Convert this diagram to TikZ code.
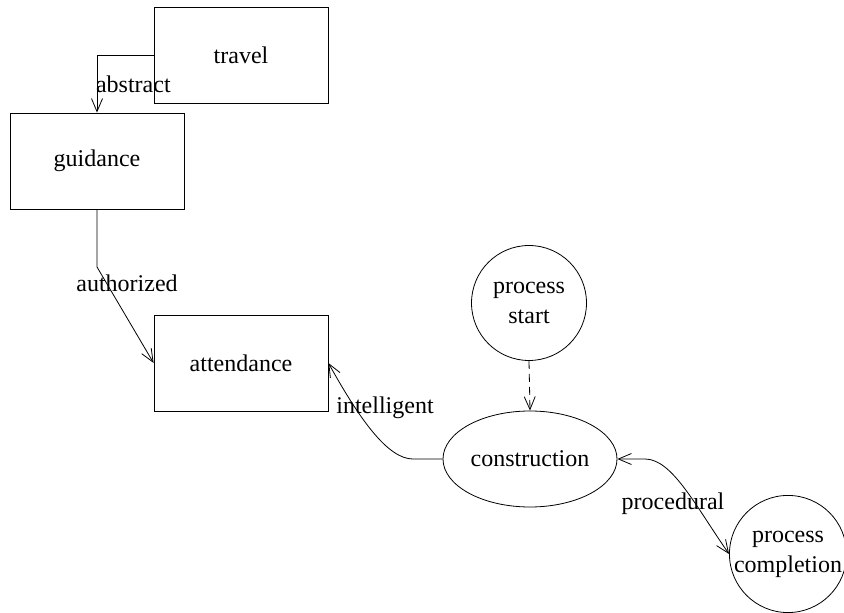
\documentclass[tikz,border=0pt]{standalone}
\usepackage{fontspec}
\setmainfont{Liberation Serif}
\usetikzlibrary{arrows.meta,shapes.geometric}

\begin{document}
\begin{tikzpicture}[x=0.5pt, y=-0.5pt,
    >={Straight Barb[length=6.5pt,width=5.5pt]},
    every node/.style={font=\fontsize{12}{15}\selectfont},
    box/.style={draw, thin, minimum width=87pt, minimum height=48pt},
    state/.style={draw, thin, circle, minimum size=57.5pt, inner sep=0pt, align=center},
    oval/.style={draw, thin, ellipse, minimum width=87pt, minimum height=48pt, inner sep=0pt},
    link/.style={thin, ->}]
    \useasboundingbox (0,0) rectangle (844,613);
    % Kvadratai
    \node[box] (travel) at (241,55) {travel};
    \node[box] (guidance) at (97,161) {guidance};
    \node[box] (attendance) at (241,363) {attendance};
    % Apskritimai
    \node[state] (start) at (529,303) {process\\start};
    \node[oval] (construction) at (530,459) {construction};
    \node[state] (completion) at (788,554) {process\\completion};
    % Rodykles
    \coordinate (bendA) at (97,267);
    \coordinate (bendB) at (413,459);
    \coordinate (bendC) at (645,459);
    \draw[link] (travel.west) -| (guidance.north)
        node[pos=0.75, anchor=west, xshift=-4pt] (abstract) {abstract};
    \draw[link] (guidance.south) -- (bendA) -- (attendance.west);
    \node (authorized) at (127,283) {authorized};
    \draw[link] (construction.west) -- (bendB)
        .. controls (388,459) and (360,420) .. (attendance.east);
    \node (intelligent) at (385,408) {intelligent};
    \draw[link, dash pattern=on 4pt off 2.5pt] (start.south) -- (construction.north);
    \draw[thin, <->] (construction.east) -- (bendC)
        .. controls (672,459) and (695,505) .. (completion.west);
    \node (procedural) at (673,504) {procedural};
\end{tikzpicture}
\end{document}
